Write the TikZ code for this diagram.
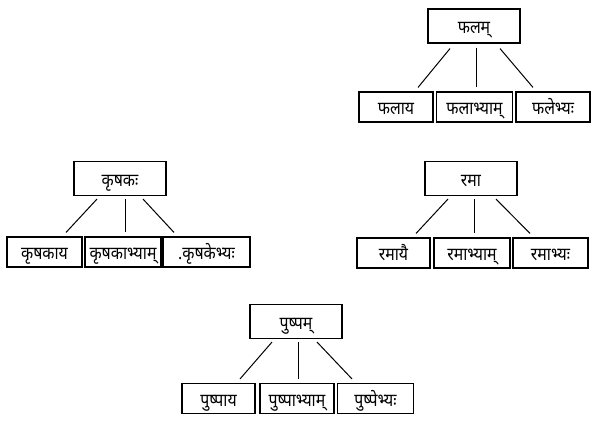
\documentclass[tikz,border=0pt]{standalone}
\usepackage{fontspec}
\newfontfamily\deva[Script=Devanagari, FakeStretch=0.88]{Noto Sans}
\begin{document}
\begin{tikzpicture}[x=1pt,y=-1pt,
  box/.style={draw, line width=1.1pt, inner sep=0pt, text height=17.5pt, text depth=2pt, font=\deva\fontsize{18}{20}\selectfont},
  topbox/.style={box, minimum width=92pt, minimum height=34pt},
  leaf/.style={box, minimum height=30pt, minimum width=#1},
  link/.style={line width=1pt}]
\useasboundingbox (0,0) rectangle (604,422);
% Group 1
\node[topbox] (phalam) at (474,26) {फलम्};
\node[leaf=74pt] (phalaya) at (396,107) {फलाय};
\node[leaf=76pt] (phalabhyam) at (474.5,107) {फलाभ्याम्};
\node[leaf=74pt] (phalebhyah) at (553,107) {फलेभ्यः};
\draw[link] ([shift={(-24,5)}]phalam.south) -- ([shift={(22,-4)}]phalaya.north);
\draw[link] ([shift={(2,4)}]phalam.south) -- ([shift={(1.5,-4)}]phalabhyam.north);
\draw[link] ([shift={(26,5)}]phalam.south) -- ([shift={(-20,-4)}]phalebhyah.north);
% Group 2
\node[topbox] (krshakah) at (120,178.5) {कृषकः};
\node[leaf=75pt] (krshakaya) at (44.5,252) {कृषकाय};
\node[leaf=76pt] (krshakabhyam) at (123,252) {कृषकाभ्याम्};
\node[leaf=87pt] (krshakebhyah) at (206.5,252) {.कृषकेभ्यः};
\draw[link] ([shift={(-23,3)}]krshakah.south) -- ([shift={(21.5,-4)}]krshakaya.north);
\draw[link] ([shift={(5,3)}]krshakah.south) -- ([shift={(2,-4)}]krshakabhyam.north);
\draw[link] ([shift={(23,3)}]krshakah.south) -- ([shift={(-32.5,-4)}]krshakebhyah.north);
% Group 3
\node[topbox] (rama) at (471,178.5) {रमा};
\node[leaf=73pt] (ramayai) at (393.5,253) {रमायै};
\node[leaf=76pt] (ramabhyam) at (472,253) {रमाभ्याम्};
\node[leaf=75pt] (ramabhyah) at (550.5,253) {रमाभ्यः};
\draw[link] ([shift={(-23,3)}]rama.south) -- ([shift={(22.5,-4)}]ramayai.north);
\draw[link] ([shift={(3,3)}]rama.south) -- ([shift={(2,-4)}]ramabhyam.north);
\draw[link] ([shift={(25,3)}]rama.south) -- ([shift={(-20.5,-4)}]ramabhyah.north);
% Group 4
\node[topbox] (pushpam) at (296,321.5) {पुष्पम्};
\node[leaf=73pt] (pushpaya) at (218.5,398.5) {पुष्पाय};
\node[leaf=74pt] (pushpabhyam) at (297,398.5) {पुष्पाभ्याम्};
\node[leaf=76pt] (pushpebhyah) at (375.5,398.5) {पुष्पेभ्यः};
\draw[link] ([shift={(-24,3)}]pushpam.south) -- ([shift={(21.5,-4)}]pushpaya.north);
\draw[link] ([shift={(2,3)}]pushpam.south) -- ([shift={(1,-4)}]pushpabhyam.north);
\draw[link] ([shift={(21,3)}]pushpam.south) -- ([shift={(-23.5,-4)}]pushpebhyah.north);
\end{tikzpicture}
\end{document}
